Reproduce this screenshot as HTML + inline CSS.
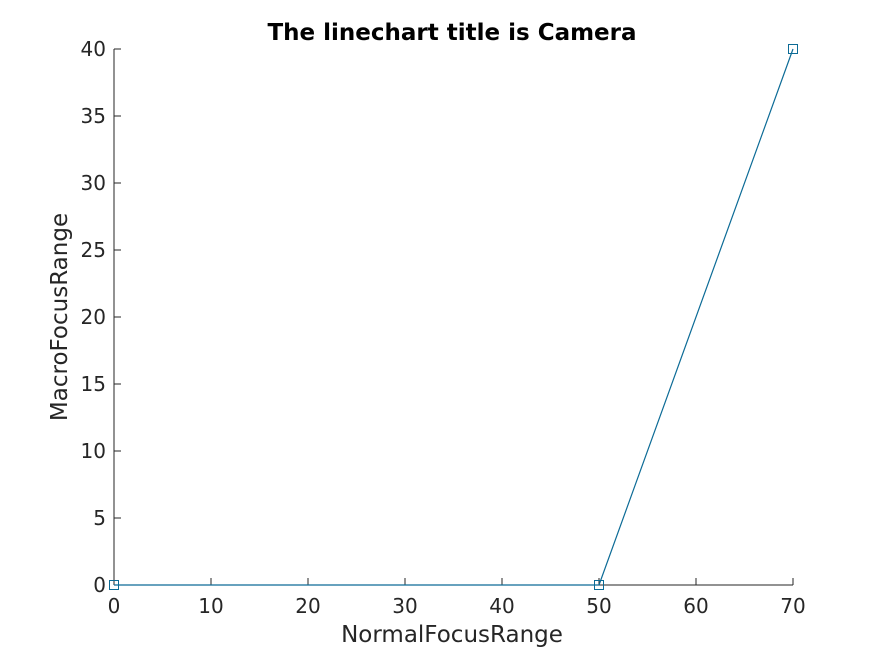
<!DOCTYPE html>
<html><head><meta charset="utf-8"><style>
body{margin:0;background:#fff;}
svg text{font-family:"DejaVu Sans","Liberation Sans",sans-serif;fill:#262626;}
</style></head><body>
<svg id="chart" width="875" height="656">
<rect width="875" height="656" fill="#fff"/>
<text x="452" y="40" text-anchor="middle" font-size="23" font-weight="bold" style="fill:#000">The linechart title is Camera</text>
<g id="axes"></g>
<g id="series"></g>
<text x="452" y="642" text-anchor="middle" font-size="23">NormalFocusRange</text>
<text transform="translate(67,317) rotate(-90)" text-anchor="middle" font-size="23">MacroFocusRange</text>
</svg>
<script>
const xValues=[0,50,70];
const yValues=[0,0,40];
const xTicks=[0,10,20,30,40,50,60,70];
const yTicks=[0,5,10,15,20,25,30,35,40];
const L=114,R=793,T=49,B=585;
const sx=v=>L+(v-0)/(70-0)*(R-L);
const sy=v=>B-(v-0)/(40-0)*(B-T);
const NS="http://www.w3.org/2000/svg";
const axes=document.getElementById('axes');
const ser=document.getElementById('series');
function mk(tag,attrs,parent){const e=document.createElementNS(NS,tag);for(const k in attrs)e.setAttribute(k,attrs[k]);parent.appendChild(e);return e;}
const xa=mk('line',{x1:L,y1:B,x2:R,y2:B,stroke:'#262626','stroke-width':1},axes);


const ya=mk('line',{x1:L,y1:T,x2:L,y2:B,stroke:'#262626','stroke-width':1},axes);


xTicks.forEach(t=>{
 const x=sx(t);
 const tk=mk('line',{x1:x,y1:B,x2:x,y2:B-7,stroke:'#262626'},axes);
 
 
 const lb=mk('text',{x:x,y:B+28,'text-anchor':'middle','font-size':20},axes);
 lb.textContent=t;
 
 
});
yTicks.forEach(t=>{
 const y=sy(t);
 const tk=mk('line',{x1:L,y1:y,x2:L+7,y2:y,stroke:'#262626'},axes);
 
 
 const lb=mk('text',{x:L-8,y:y+7,'text-anchor':'end','font-size':20},axes);
 lb.textContent=t;
 
 
});
const pts=xValues.map((v,i)=>sx(v)+','+sy(yValues[i])).join(' ');
const pl=mk('polyline',{points:pts,fill:'none',stroke:'#0c6b96','stroke-width':1.2},ser);


xValues.forEach((v,i)=>{
 const r=mk('rect',{x:sx(v)-4.5,y:sy(yValues[i])-4.5,width:9,height:9,fill:'none',stroke:'#0c6b96','stroke-width':1},ser);
 
 
});
</script>
</body></html>
